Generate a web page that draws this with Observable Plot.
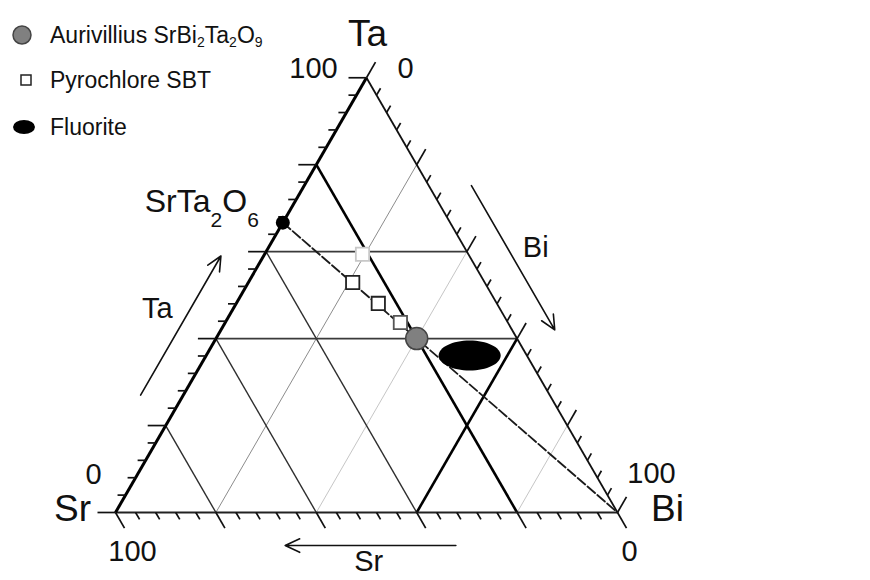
<!DOCTYPE html>
<html><head><meta charset="utf-8">
<script src="https://cdn.jsdelivr.net/npm/d3@7"></script>
<script src="https://cdn.jsdelivr.net/npm/@observablehq/plot@0.6"></script>
<style>
html,body{margin:0;padding:0;background:#fff;}
#wrap{position:relative;width:870px;height:580px;overflow:hidden;font-family:"Liberation Sans",Arial,sans-serif;}
#legend{position:absolute;left:0;top:0;}
.row{position:absolute;left:0;height:30px;display:flex;align-items:center;font-size:23px;color:#111;white-space:nowrap;}
.row svg{display:block;width:50px;height:30px;flex:none;}
.row sub{font-size:14px;vertical-align:-4px;line-height:0;}
</style></head><body>
<div id="wrap"><div id="chart"></div><div id="legend"></div></div>
<script>
// ---------- data (ternary fractions Sr / Bi / Ta) ----------
const gridSr = [0.2, 0.4, 0.6, 0.8];
const gridBi = [0.2, 0.4, 0.6, 0.8];
const gridTa = [0.4, 0.6];
const tickStep = 0.04, tickCount = 25, majorEvery = 5;

const compoundNames = ["SrTa2O6", "SrBi2Ta2O9"];
const compoundSr = [1/3, 0.2];
const compoundBi = [0, 0.4];
const compoundTa = [2/3, 0.4];

const pyroSr = [0.211, 0.263, 0.236, 0.214];
const pyroBi = [0.195, 0.208, 0.283, 0.349];
const pyroTa = [0.594, 0.529, 0.481, 0.437];

const fluoriteSr = [0.114];
const fluoriteBi = [0.525];
const fluoriteTa = [0.361];

const tieSr = [1/3, 0.2, 0];
const tieBi = [0, 0.4, 1];
const tieTa = [2/3, 0.4, 0];

const legendLabels = ["Aurivillius SrBi2Ta2O9", "Pyrochlore SBT", "Fluorite"];

const vertexNames = ["Sr", "Bi", "Ta"];
const vertexBi = [0, 1, 0];
const vertexTa = [0, 0, 1];

const endLabelText = ["0", "100", "0", "100", "100", "0"];
const endLabelBi = [0, 0, 0, 1, 0, 1];
const endLabelTa = [0, 1, 1, 0, 0, 0];

const arrowNames = ["Ta", "Bi", "Sr"];
const arrowFromBi = [-0.085, 0.333, 0.716];
const arrowFromTa = [0.27, 0.752, -0.076];
const arrowToBi = [-0.085, 0.665, 0.376];
const arrowToTa = [0.59, 0.42, -0.076];
const arrowLabelBi = [-0.151, 0.532, 0.561];
const arrowLabelTa = [0.469, 0.61, -0.113];

// ---------- geometry ----------
const W = 870, H = 580, S = 502, ox = 115, oy = 512;
const SQ3 = Math.sqrt(3) / 2;
const px = (bi, ta) => bi + ta / 2;
const py = ta => ta * SQ3;
const FONT = '"Liberation Sans", Arial, sans-serif';

// grid lines
const lines = [];
gridBi.forEach(b => lines.push({bi1: b, ta1: 0, bi2: b, ta2: 1 - b,
  stroke: b === 0.6 ? "#000" : b === 0.2 ? "#8c8c8c" : "#c6c6c6", w: b === 0.6 ? 2.6 : 1}));
gridTa.forEach(t => lines.push({bi1: 0, ta1: t, bi2: 1 - t, ta2: t, stroke: "#3a3a3a", w: 1.6}));
gridSr.forEach(s => lines.push({bi1: 0, ta1: 1 - s, bi2: 1 - s, ta2: 0,
  stroke: s === 0.2 ? "#000" : "#2e2e2e", w: s === 0.2 ? 2.6 : 1.4}));
lines.sort((a, b) => a.w - b.w);

const edges = [
  {bi1: 0, ta1: 0, bi2: 1, ta2: 0, stroke: "#222", w: 2},
  {bi1: 1, ta1: 0, bi2: 0, ta2: 1, stroke: "#111", w: 1.8},
  {bi1: 0, ta1: 0, bi2: 0, ta2: 1, stroke: "#000", w: 3}
];

const ticks = [];
for (let i = 0; i <= tickCount; i++) {
  const v = i * tickStep;
  const L = (i % majorEvery === 0 ? 18 : 8) / S;
  ticks.push({bi1: 0, ta1: v, bi2: -L, ta2: v});            // Ta axis (left)
  ticks.push({bi1: v, ta1: 0, bi2: v + L, ta2: -L});         // Sr axis (bottom)
  ticks.push({bi1: v, ta1: 1 - v, bi2: v, ta2: 1 - v + L});  // Bi axis (right)
}

const linkOpts = {
  x1: d => px(d.bi1, d.ta1), y1: d => py(d.ta1),
  x2: d => px(d.bi2, d.ta2), y2: d => py(d.ta2)
};

const pyro = pyroSr.map((s, i) => ({bi: pyroBi[i], ta: pyroTa[i], i}));
const pyroStroke = ["#c8c8c8", "#222", "#222", "#555"];
const tie = tieSr.map((s, i) => ({bi: tieBi[i], ta: tieTa[i]}));
const fluorite = fluoriteSr.map((s, i) => ({bi: fluoriteBi[i], ta: fluoriteTa[i]}));

const ellipseSymbol = {
  draw(ctx) {
    const rx = 31, ry = 15, k = 0.5523;
    ctx.moveTo(rx, 0);
    ctx.bezierCurveTo(rx, k * ry, k * rx, ry, 0, ry);
    ctx.bezierCurveTo(-k * rx, ry, -rx, k * ry, -rx, 0);
    ctx.bezierCurveTo(-rx, -k * ry, -k * rx, -ry, 0, -ry);
    ctx.bezierCurveTo(k * rx, -ry, rx, -k * ry, rx, 0);
    ctx.closePath();
  }
};

const marks = [
  Plot.link(lines, {...linkOpts, stroke: d => d.stroke, strokeWidth: d => d.w}),
  Plot.link(edges, {...linkOpts, stroke: d => d.stroke, strokeWidth: d => d.w}),
  Plot.link(ticks, {...linkOpts, stroke: "#111", strokeWidth: 1.7}),
  Plot.line(tie, {x: d => px(d.bi, d.ta), y: d => py(d.ta), stroke: "#1a1a1a", strokeWidth: 1.8, strokeDasharray: "10,3"}),
  Plot.dot(fluorite, {x: d => px(d.bi, d.ta), y: d => py(d.ta), symbol: ellipseSymbol, fill: "#000", stroke: "none"}),
  Plot.dot(pyro, {x: d => px(d.bi, d.ta), y: d => py(d.ta), symbol: "square", r: 7.5, fill: "#fff",
    stroke: d => pyroStroke[d.i], strokeWidth: 1.8}),
  Plot.dot([1], {x: () => px(compoundBi[1], compoundTa[1]), y: () => py(compoundTa[1]), r: 11,
    fill: "#808080", stroke: "#444", strokeWidth: 1.5}),
  Plot.dot([0], {x: () => px(compoundBi[0], compoundTa[0]), y: () => py(compoundTa[0]), r: 7, fill: "#000"}),
  Plot.text([0], {x: () => px(compoundBi[0], compoundTa[0]), y: () => py(compoundTa[0]), text: () => compoundNames[0],
    textAnchor: "end", dx: -24, dy: -21, fontSize: 32, fill: "#111"})
];

// corner labels
const vertexOffsets = [[-43, -3], [50, -3], [1, -44]];
vertexNames.forEach((n, i) => marks.push(Plot.text([i], {
  x: () => px(vertexBi[i], vertexTa[i]), y: () => py(vertexTa[i]), text: () => n,
  dx: vertexOffsets[i][0], dy: vertexOffsets[i][1], fontSize: 37, fill: "#111"})));

// end labels
const endOffsets = [[-22, -38], [-53, -9], [39, -9], [34, -39], [17, 39], [12, 39]];
endLabelText.forEach((t, i) => marks.push(Plot.text([i], {
  x: () => px(endLabelBi[i], endLabelTa[i]), y: () => py(endLabelTa[i]), text: () => t,
  dx: endOffsets[i][0], dy: endOffsets[i][1], fontSize: 29, fill: "#111"})));

// arrows + labels
marks.push(Plot.arrow(arrowNames.map((n, i) => i), {
  x1: i => px(arrowFromBi[i], arrowFromTa[i]), y1: i => py(arrowFromTa[i]),
  x2: i => px(arrowToBi[i], arrowToTa[i]), y2: i => py(arrowToTa[i]),
  stroke: "#111", strokeWidth: 1.6, headLength: 15, headAngle: 50}));
marks.push(Plot.text(arrowNames.map((n, i) => i), {
  x: i => px(arrowLabelBi[i], arrowLabelTa[i]), y: i => py(arrowLabelTa[i]),
  text: i => arrowNames[i], fontSize: 29, fill: "#111"}));

const chart = Plot.plot({
  width: W, height: H, margin: 0,
  x: {domain: [-ox / S, (W - ox) / S], axis: null},
  y: {domain: [-(H - oy) / S, oy / S], axis: null},
  color: {type: "identity"},
  style: {fontFamily: FONT, background: "transparent"},
  marks
});

// subscripts in the compound label
d3.select(chart).selectAll("text").filter(function () { return this.textContent === compoundNames[0]; })
  .each(function () {
    const t = d3.select(this), txt = this.textContent;
    t.text("");
    let sub = false;
    txt.split(/(\d+)/).filter(Boolean).forEach(part => {
      const isNum = /^\d+$/.test(part);
      const ts = t.append("tspan").text(part);
      if (isNum && !sub) { ts.attr("dy", 15).attr("font-size", 21); sub = true; }
      else if (!isNum && sub) { ts.attr("dy", -15); sub = false; }
    });
  });

document.getElementById("chart").appendChild(chart);

// legend
const legendSymbols = [
  `<circle cx="22" cy="15" r="9" fill="#808080" stroke="#444" stroke-width="1.5"/>`,
  `<rect x="21" y="10" width="10" height="10" fill="#fff" stroke="#222" stroke-width="1.5"/>`,
  `<ellipse cx="24" cy="15" rx="11" ry="7" fill="#000"/>`
];
const legendCenters = [35, 80, 127];
const legend = document.getElementById("legend");
legendLabels.forEach((lab, i) => {
  const row = document.createElement("div");
  row.className = "row";
  row.style.top = (legendCenters[i] - 15) + "px";
  const html = lab.replace(/(\d)/g, "<sub>$1</sub>");
  row.innerHTML = `<svg viewBox="0 0 50 30">${legendSymbols[i]}</svg><span>${html}</span>`;
  legend.appendChild(row);
});
</script>
</body></html>
